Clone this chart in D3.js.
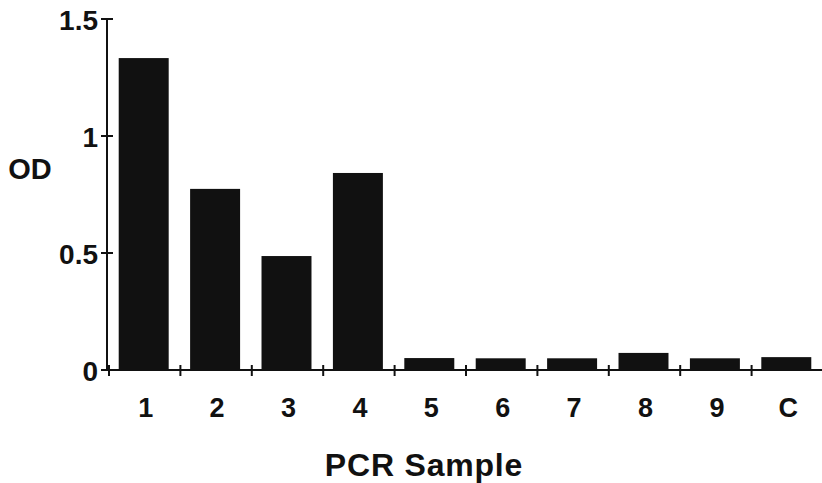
<!DOCTYPE html>
<html><head><meta charset="utf-8">
<script src="https://cdn.jsdelivr.net/npm/d3@7"></script>
<style>body{margin:0;background:#fff}svg{display:block}text{font-family:"Liberation Sans",Arial,Helvetica,sans-serif;font-weight:bold;fill:#111}</style>
</head><body>
<svg id="c" width="822" height="483"></svg>
<script>
const categories = ["1","2","3","4","5","6","7","8","9","C"];
const odValues = [1.333, 0.774, 0.487, 0.842, 0.051, 0.05, 0.05, 0.073, 0.05, 0.055];
const yTicks = [0, 0.5, 1, 1.5];
const yTickLabels = ["0", "0.5", "1", "1.5"];

const svg = d3.select("#c");
const x0 = 108, x1 = 822, yBase = 370, yTop = 19;
const x = d3.scaleBand().domain(categories).range([x0, x1]).paddingInner(0.3).paddingOuter(0.15);
const xb = d3.scaleLinear().domain([0, categories.length]).range([x0, x1]);
const y = d3.scaleLinear().domain([0, 1.5]).range([yBase, yTop]);

// bars
svg.selectAll("rect.bar").data(categories).enter().append("rect")
  .attr("x", d => x(d)).attr("width", x.bandwidth())
  .attr("y", (d,i) => y(odValues[i])).attr("height", (d,i) => yBase - y(odValues[i]))
  .attr("fill", "#111");

// y axis
const ya = svg.append("g");
ya.append("line").attr("x1", 107).attr("x2", 107).attr("y1", y(1.5)).attr("y2", yBase)
  .attr("stroke", "#111").attr("stroke-width", 2);
yTicks.forEach((t, i) => {
  ya.append("line").attr("x1", 101).attr("x2", 113).attr("y1", y(t)).attr("y2", y(t))
    .attr("stroke", "#111").attr("stroke-width", 2);
  ya.append("text").attr("x", 98).attr("y", y(t) + 1).attr("dy", "0.36em")
    .attr("text-anchor", "end").attr("font-size", 28).text(yTickLabels[i]);
});

// x axis
const xa = svg.append("g");
xa.append("line").attr("x1", 107).attr("x2", x1).attr("y1", yBase).attr("y2", yBase)
  .attr("stroke", "#111").attr("stroke-width", 2);
d3.range(categories.length).forEach(i => {
  xa.append("line").attr("x1", xb(i)+1).attr("x2", xb(i)+1).attr("y1", yBase-5).attr("y2", yBase+6)
    .attr("stroke", "#111").attr("stroke-width", 2);
});
xa.selectAll("text.xl").data(categories).enter().append("text")
  .attr("x", d => x(d) + x.bandwidth()/2 + 2).attr("y", 407).attr("dy", "0.36em")
  .attr("text-anchor", "middle").attr("font-size", 27).text(d => d);

svg.append("text").attr("x", 30).attr("y", 169).attr("dy", "0.36em")
  .attr("text-anchor", "middle").attr("font-size", 29).text("OD");
svg.append("text").attr("x", 424).attr("y", 464).attr("dy", "0.36em")
  .attr("text-anchor", "middle").attr("font-size", 32).attr("letter-spacing", 0.8).text("PCR Sample");
</script>
</body></html>
